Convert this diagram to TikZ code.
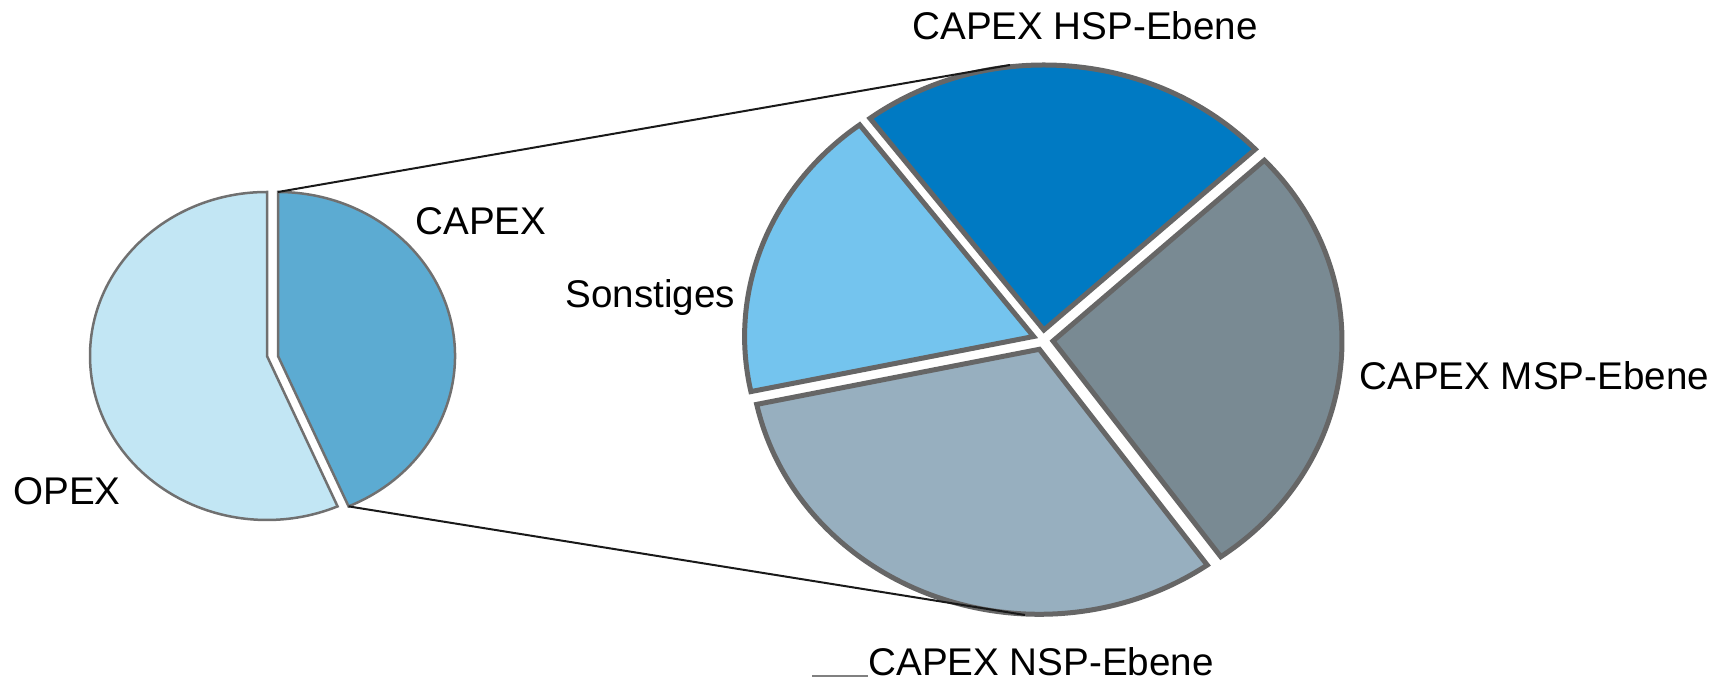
\documentclass[tikz,border=0pt]{standalone}
\usepackage{fontspec}
\setmainfont{Liberation Sans}
\definecolor{opexc}{HTML}{C2E6F4}
\definecolor{capexc}{HTML}{5CABD2}
\definecolor{hspc}{HTML}{007AC3}
\definecolor{sonstc}{HTML}{74C4EE}
\definecolor{mspc}{HTML}{798A93}
\definecolor{nspc}{HTML}{97AFBF}
\definecolor{bigedge}{HTML}{666666}
\definecolor{smalledge}{HTML}{707070}
\begin{document}
\begin{tikzpicture}[x=0.5pt,y=0.5pt,
  bigslice/.style={draw=bigedge,line width=2.5pt},
  smallslice/.style={draw=smalledge,line width=1.25pt},
  lbl/.style={anchor=base west,inner sep=0pt,font=\fontsize{19.3}{22}\selectfont},
  conn/.style={draw=black!90,line width=1pt}]
\useasboundingbox (0,0) rectangle (1721,685);
% small pie
\path[smallslice,fill=opexc] (267,329) -- ++(90:177 and 164)
  arc[start angle=90,end angle=293.5,x radius=177,y radius=164] -- cycle;
\path[smallslice,fill=capexc] (278,329) -- ++(-66.5:177 and 164)
  arc[start angle=-66.5,end angle=90,x radius=177,y radius=164] -- cycle;
\coordinate (capTop) at (278,493);
\path (278,329) ++(-66.5:177 and 164) coordinate (capBot);
% big pie
\path[bigslice,fill=hspc] (1043.9,355) -- ++(43:289 and 265)
  arc[start angle=43,end angle=127,x radius=289,y radius=265] -- cycle;
\path[bigslice,fill=sonstc] (1033.6,348.5) -- ++(127:289 and 265)
  arc[start angle=127,end angle=192,x radius=289,y radius=265] -- cycle;
\path[bigslice,fill=nspc] (1039.4,335.7) -- ++(192:289 and 265)
  arc[start angle=192,end angle=305.5,x radius=289,y radius=265] -- cycle;
\path[bigslice,fill=mspc] (1053,344) -- ++(-54.5:289 and 265)
  arc[start angle=-54.5,end angle=43,x radius=289,y radius=265] -- cycle;
\coordinate (bigTop) at (1010,620);
\coordinate (bigBot) at (1025,70);
% connectors
\draw[conn] (capTop) -- (bigTop);
\draw[conn] (capBot) -- (bigBot);
% labels
\node[lbl] (hsp) at (912,645) {CAPEX HSP-Ebene};
\node[lbl] (capex) at (415,450) {CAPEX};
\node[lbl] (sonst) at (565,377) {Sonstiges};
\node[lbl] (msp) at (1359,295) {CAPEX MSP-Ebene};
\node[lbl] (nsp) at (868,9) {CAPEX NSP-Ebene};
\node[lbl] (opex) at (13,180) {OPEX};
\coordinate (lead) at (812,9);
\draw[draw=gray,line width=1pt] (lead) -- (nsp.base west);
\end{tikzpicture}
\end{document}
